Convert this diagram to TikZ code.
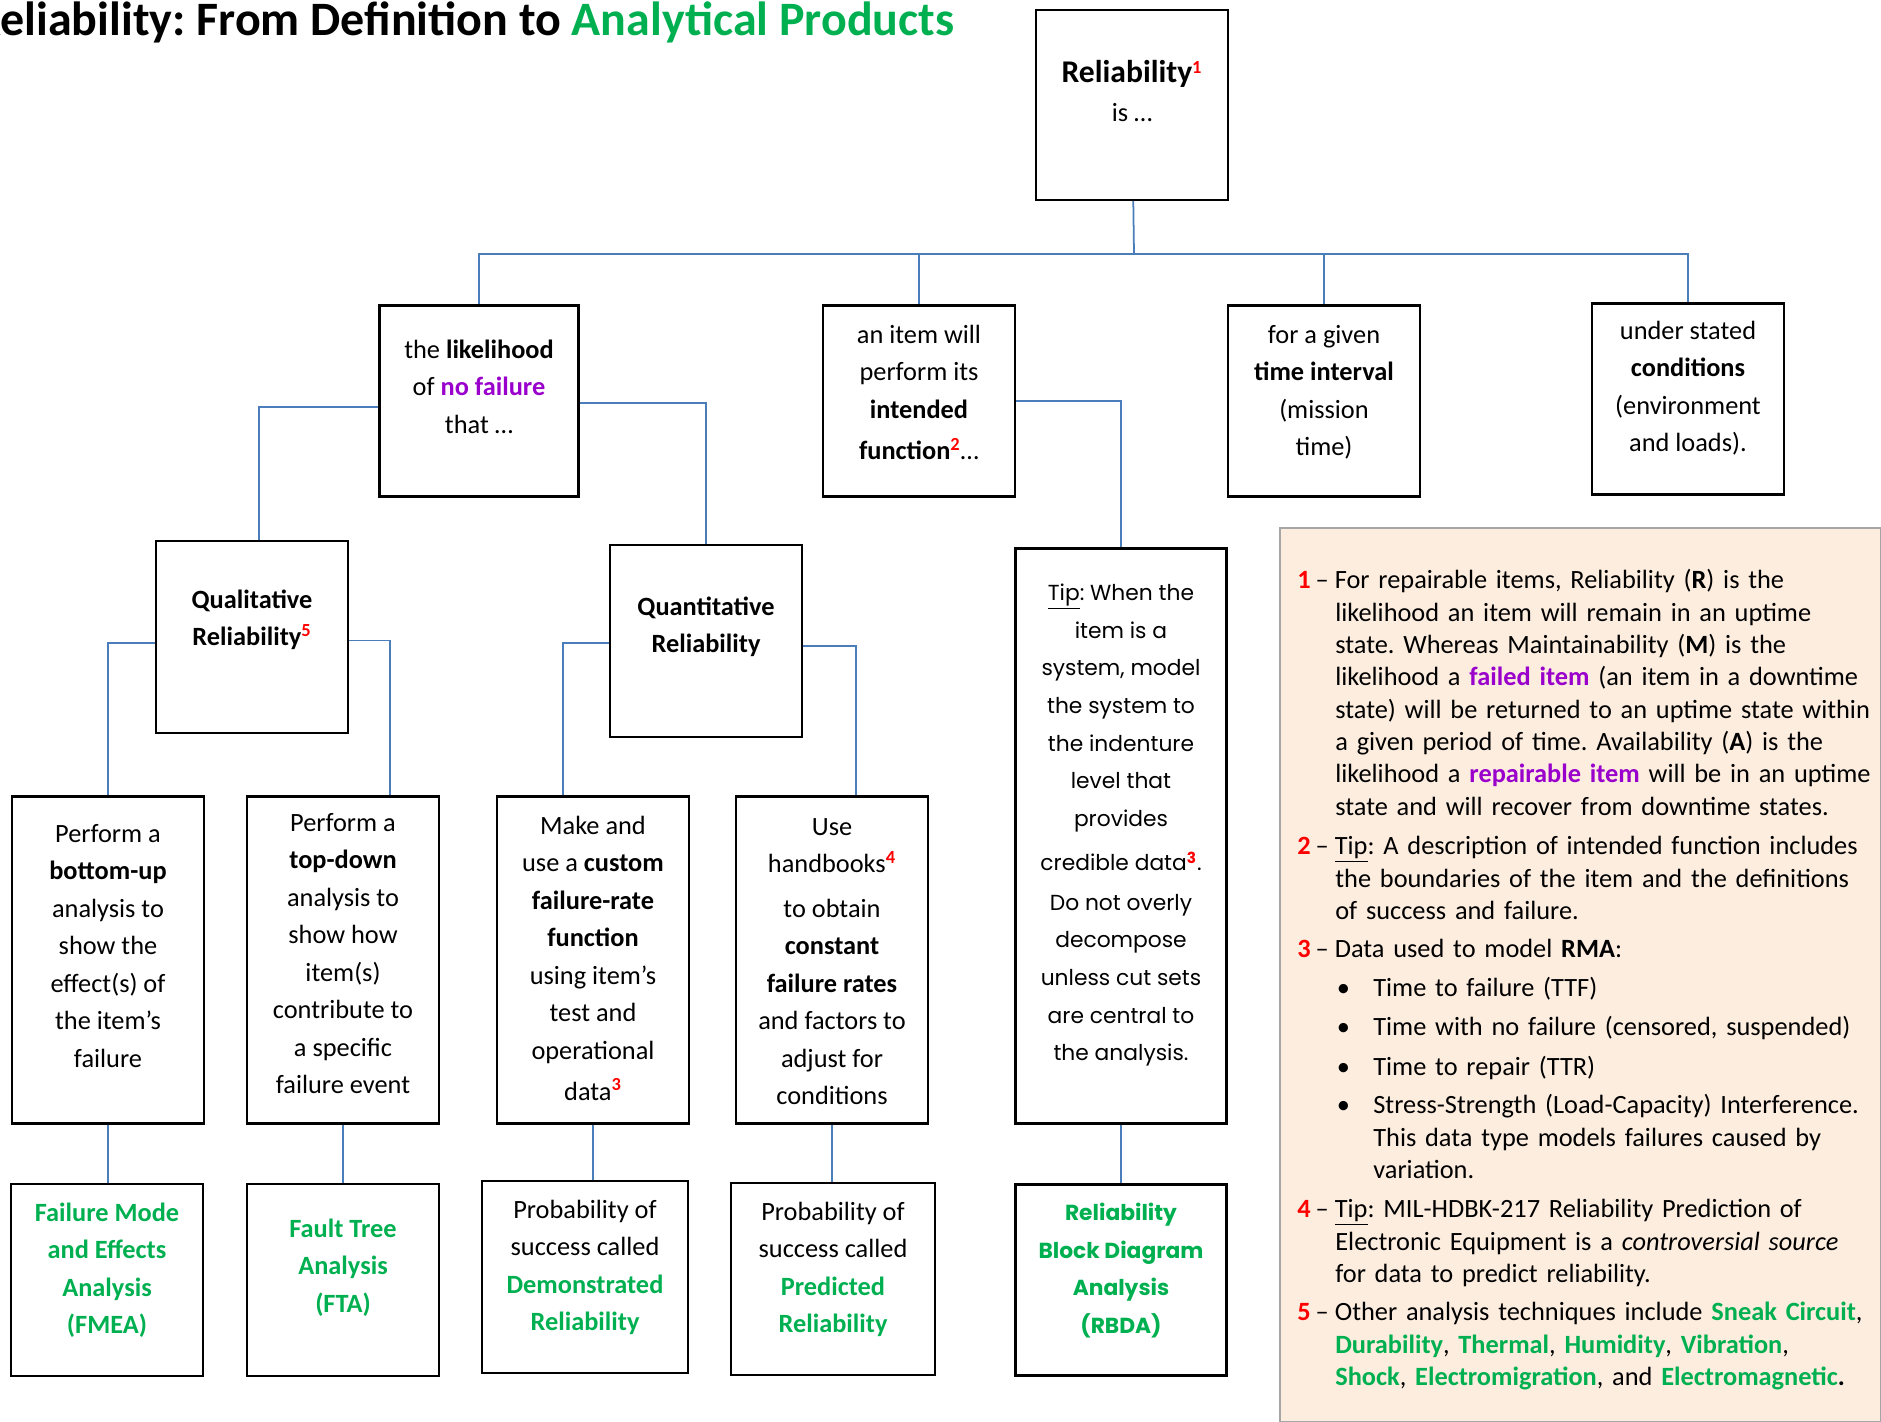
\documentclass[tikz,border=0pt]{standalone}
\usepackage{fontspec}
\setmainfont{Carlito}
\newfontfamily\tipfont{Poppins}
\usetikzlibrary{positioning}
\frenchspacing

\definecolor{linkblue}{HTML}{4A7EBB}
\definecolor{prodgreen}{HTML}{00B050}
\definecolor{nofail}{HTML}{9A00CC}
\definecolor{notefill}{HTML}{FDEDDF}
\definecolor{noteline}{HTML}{A6A6A6}

\newcommand{\refmark}[1]{\textsuperscript{\textcolor{red}{\textbf{#1}}}}
\newcommand{\grn}[1]{\textcolor{prodgreen}{\textbf{#1}}}
\newcommand{\pur}[1]{\textcolor{nofail}{\textbf{#1}}}
\newcommand{\notenum}[1]{\textcolor{red}{\textbf{#1}}\hspace{0.1cm}--\hspace{0.12cm}}
\newcommand{\hang}{\hspace*{0.76cm}}
\newcommand{\bhang}{\hspace*{0.78cm}}
\newcommand{\bul}{\makebox[0.78cm][l]{\hspace{0.05cm}\textbullet}}

\tikzset{
  box/.style={draw=black, line width=1.3pt, minimum width=3.84cm, minimum height=3.82cm},
  link/.style={draw=linkblue, line width=1pt},
  txt/.style={anchor=north, inner sep=0pt, align=center, font=\fontsize{15}{21.3}\selectfont},
  tiptxt/.style={anchor=north, inner sep=0pt, align=center, font=\tipfont\fontsize{12.4}{21.4}\selectfont},
  notetxt/.style={anchor=north west, inner sep=0pt, text width=11.8cm, align=left, font=\fontsize{15}{18.4}\selectfont}
}

\begin{document}
\begin{tikzpicture}[x=0.02cm, y=-0.02cm]
\useasboundingbox (0,0) rectangle (1881,1422);

% title
\node[anchor=base west, font=\fontsize{27.3}{30}\selectfont\bfseries] (title) at (-32,36)
  {Reliability: From Definition to \textcolor{prodgreen}{Analytical Products}};

% notes panel
\draw[fill=notefill, draw=noteline, line width=0.8pt] (1280,528) rectangle (1881,1422);

% boxes
\node[box, minimum height=3.80cm] (root) at (1132,105) {};
\node[box, minimum width=3.98cm] (lik) at (479,401) {};
\node[box] (perf) at (919,401) {};
\node[box] (time) at (1324,401) {};
\node[box] (cond) at (1688,399) {};

\node[box, minimum height=3.84cm] (qual) at (252,637) {};
\node[box, minimum height=3.84cm] (quant) at (706,641) {};
\node[box, minimum width=4.22cm, minimum height=11.5cm] (tip) at (1121,836) {};

\node[box, minimum height=6.54cm] (bu) at (108,960) {};
\node[box, minimum height=6.54cm] (td) at (343,960) {};
\node[box, minimum height=6.54cm] (cu) at (593,960) {};
\node[box, minimum height=6.54cm] (hb) at (832,960) {};

\node[box, minimum height=3.84cm] (fmea) at (107,1280) {};
\node[box, minimum height=3.84cm] (fta) at (343,1280) {};
\node[box, minimum width=4.12cm, minimum height=3.84cm] (dem) at (585,1277) {};
\node[box, minimum width=4.08cm, minimum height=3.84cm] (pred) at (833,1279) {};
\node[box, minimum width=4.22cm] (rbda) at (1121,1280) {};

% box texts
\node[txt] (rootT) at (1132,56) {\strut{\fontsize{18}{21}\selectfont\textbf{Reliability}}\refmark{1}\\[1pt] is \ldots};
\node[txt] (likT) at (479,332) {\strut the \textbf{likelihood}\\ of \pur{no failure}\\ that \ldots};
\node[txt] (perfT) at (919,317) {\strut an item will\\ perform its\\ \textbf{intended}\\[2pt] \textbf{function}\refmark{2}\ldots};
\node[txt] (timeT) at (1324,317) {\strut for a given\\ \textbf{time interval}\\ (mission\\ time)};
\node[txt] (condT) at (1688,313) {\strut under stated\\ \textbf{conditions}\\ (environment\\ and loads).};

\node[txt] (qualT) at (252,582) {\strut\textbf{Qualitative}\\ \textbf{Reliability}\refmark{5}};
\node[txt] (quantT) at (706,589) {\strut\textbf{Quantitative}\\ \textbf{Reliability}};
\node[tiptxt] (tipT) at (1121,574) {\strut\underline{Tip}: When the\\ item is a\\ system, model\\ the system to\\ the indenture\\ level that\\ provides\\[4pt] credible data\refmark{3}.\\[1pt] Do not overly\\ decompose\\ unless cut sets\\ are central to\\ the analysis.};

\node[txt] (buT) at (108,816) {\strut Perform a\\ \textbf{bottom-up}\\ analysis to\\ show the\\ effect(s) of\\ the item’s\\ failure};
\node[txt] (tdT) at (343,805) {\strut Perform a\\ \textbf{top-down}\\ analysis to\\ show how\\ item(s)\\ contribute to\\ a specific\\ failure event};
\node[txt] (cuT) at (593,808) {\strut Make and\\ use a \textbf{custom}\\ \textbf{failure-rate}\\ \textbf{function}\\ using item’s\\ test and\\ operational\\[2pt] data\refmark{3}};
\node[txt] (hbT) at (832,809) {\strut Use\\ handbooks\refmark{4}\\[4pt] to obtain\\ \textbf{constant}\\ \textbf{failure rates}\\ and factors to\\ adjust for\\ conditions};

\node[txt] (fmeaT) at (107,1195) {\strut\grn{Failure Mode}\\ \grn{and Effects}\\ \grn{Analysis}\\ \grn{(FMEA)}};
\node[txt] (ftaT) at (343,1211) {\strut\grn{Fault Tree}\\ \grn{Analysis}\\ \grn{(FTA)}};
\node[txt] (demT) at (585,1192) {\strut Probability of\\ success called\\ \grn{Demonstrated}\\ \grn{Reliability}};
\node[txt] (predT) at (833,1194) {\strut Probability of\\ success called\\ \grn{Predicted}\\ \grn{Reliability}};
\node[tiptxt, font=\tipfont\fontsize{12.4}{21.4}\selectfont\bfseries\color{prodgreen}] (rbdaT) at (1121,1194) {\strut Reliability\\ Block Diagram\\ Analysis\\ (RBDA)};

% connectors
\coordinate (bus) at (1134,254);
\draw[link] (root) -- (bus);
\draw[link] (lik.north) |- (bus) -| (cond.north);
\draw[link] (perf.north) -- (perf.north |- bus);
\draw[link] (time.north) -- (time.north |- bus);

\draw[link] ([yshift=-0.12cm]lik.west) -| ([xshift=0.14cm]qual.north);
\draw[link] ([yshift=-0.04cm]lik.east) -| (quant.north);
\draw[link] (perf.east) -| (tip.north);

\draw[link] ([yshift=-0.12cm]qual.west) -| (bu.north);
\draw[link] ([yshift=-0.07cm]qual.east) -| ([xshift=0.94cm]td.north);
\draw[link] ([yshift=-0.04cm]quant.west) -| ([xshift=-0.6cm]cu.north);
\draw[link] ([yshift=-0.1cm]quant.east) -| ([xshift=0.48cm]hb.north);

\draw[link] (bu.south) -- (bu.south |- fmea.north);
\draw[link] (td.south) -- (td.south |- fta.north);
\draw[link] (cu.south) -- (cu.south |- dem.north);
\draw[link] (hb.south) -- (hb.south |- pred.north);
\draw[link] (tip.south) -- (tip.south |- rbda.north);

% notes
\node[notetxt] (n1) at (1297,566) {\strut\notenum{1}For repairable items, Reliability (\textbf{R}) is the\\
  \hang likelihood an item will remain in an uptime\\
  \hang state. Whereas Maintainability (\textbf{M}) is the\\
  \hang likelihood a \pur{failed item} (an item in a downtime\\
  \hang state) will be returned to an uptime state within\\
  \hang a given period of time. Availability (\textbf{A}) is the\\
  \hang likelihood a \pur{repairable item} will be in an uptime\\
  \hang state and will recover from downtime states.};
\node[notetxt] (n2) at (1297,832) {\strut\notenum{2}\underline{Tip}: A description of intended function includes\\
  \hang the boundaries of the item and the definitions\\
  \hang of success and failure.};
\node[notetxt] (n3) at (1297,935) {\strut\notenum{3}Data used to model \textbf{RMA}:};
\node[notetxt] (b1) at (1334,974) {\strut\bul Time to failure (TTF)};
\node[notetxt] (b2) at (1334,1013) {\strut\bul Time with no failure (censored, suspended)};
\node[notetxt] (b3) at (1334,1053) {\strut\bul Time to repair (TTR)};
\node[notetxt] (b4) at (1334,1091) {\strut\bul Stress-Strength (Load-Capacity) Interference.\\
  \bhang This data type models failures caused by\\
  \bhang variation.};
\node[notetxt] (n4) at (1297,1195) {\strut\notenum{4}\underline{Tip}: MIL-HDBK-217 Reliability Prediction of\\
  \hang Electronic Equipment is a \textit{controversial source}\\
  \hang for data to predict reliability.};
\node[notetxt] (n5) at (1297,1298) {\strut\notenum{5}Other analysis techniques include \grn{Sneak Circuit},\\
  \hang\grn{Durability}, \grn{Thermal}, \grn{Humidity}, \grn{Vibration},\\
  \hang\grn{Shock}, \grn{Electromigration}, and \grn{Electromagnetic}\textbf{.}};

\end{tikzpicture}
\end{document}
